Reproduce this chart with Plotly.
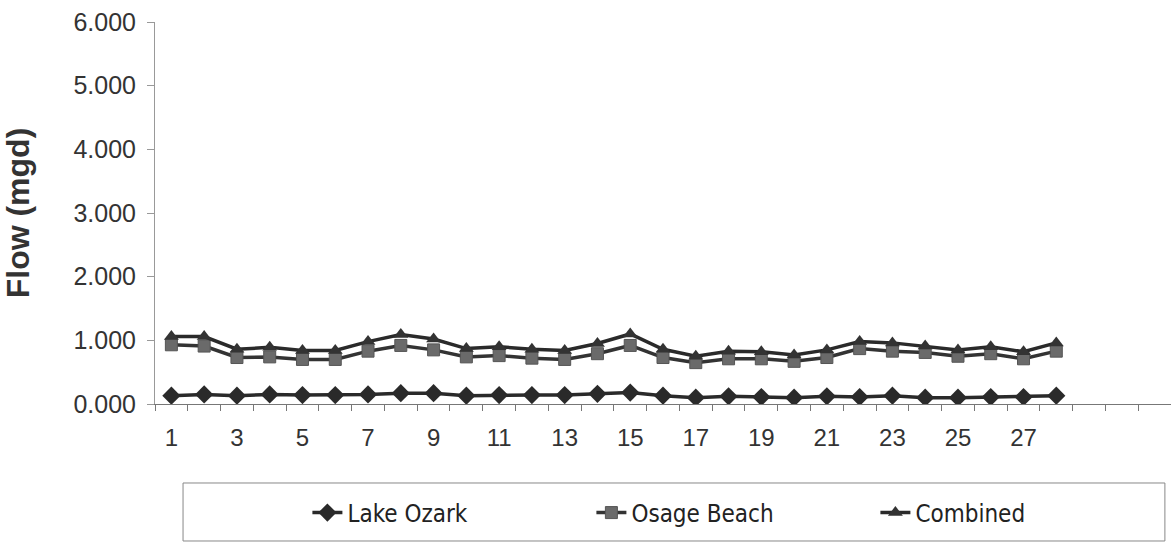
import plotly.graph_objects as go

days = list(range(1, 29))
lake_ozark = [0.13, 0.15, 0.13, 0.15, 0.14, 0.14, 0.15, 0.17, 0.17, 0.13, 0.14, 0.14, 0.14, 0.16,
              0.18, 0.13, 0.10, 0.12, 0.11, 0.10, 0.12, 0.11, 0.13, 0.10, 0.10, 0.11, 0.11, 0.13]
osage_beach = [0.93, 0.91, 0.73, 0.74, 0.70, 0.70, 0.83, 0.92, 0.85, 0.74, 0.76, 0.72, 0.70, 0.79,
               0.92, 0.73, 0.65, 0.71, 0.71, 0.67, 0.73, 0.87, 0.83, 0.81, 0.75, 0.79, 0.71, 0.83]
combined = [1.06, 1.06, 0.86, 0.89, 0.84, 0.84, 0.98, 1.09, 1.02, 0.87, 0.90, 0.86, 0.84, 0.95,
            1.10, 0.86, 0.75, 0.83, 0.82, 0.77, 0.85, 0.98, 0.96, 0.91, 0.85, 0.90, 0.82, 0.96]

x_labels = [1, 3, 5, 7, 9, 11, 13, 15, 17, 19, 21, 23, 25, 27]
n_slots = 31
y_ticks = [0, 1, 2, 3, 4, 5, 6]

FONT = "Liberation Sans, Arial, sans-serif"
NARROW = "Liberation Sans Narrow, DejaVu Sans Condensed, Arial Narrow, sans-serif"

fig = go.Figure()
fig.add_trace(go.Scatter(
    x=days, y=lake_ozark, name="Lake Ozark", mode="lines+markers",
    line=dict(color="#2a2a2a", width=3.5),
    marker=dict(symbol="diamond", size=14, color="#2a2a2a")))
fig.add_trace(go.Scatter(
    x=days, y=osage_beach, name="Osage Beach", mode="lines+markers",
    line=dict(color="#333333", width=3.5),
    marker=dict(symbol="square", size=12, color="#6a6a6a", line=dict(color="#555555", width=1))))
fig.add_trace(go.Scatter(
    x=days, y=combined, name="Combined", mode="lines+markers",
    line=dict(color="#2a2a2a", width=3.5),
    marker=dict(symbol="triangle-up", size=13, color="#333333")))

fig.update_layout(
    width=1171, height=548,
    margin=dict(l=155, r=0, t=22, b=144, autoexpand=False),
    paper_bgcolor="white", plot_bgcolor="white",
    font=dict(family=FONT, size=24, color="#333333"),
    showlegend=True,
    legend=dict(
        orientation="h", x=0.15, xanchor="left", y=-0.2853, yanchor="middle",
        font=dict(family=NARROW, size=24, color="#222222"),
        entrywidth=239, entrywidthmode="pixels",
        bgcolor="rgba(0,0,0,0)", borderwidth=0,
    ),
    shapes=[dict(type="rect", xref="paper", yref="paper",
                 x0=0.0276, x1=0.994, y0=-0.3586, y1=-0.2068,
                 line=dict(color="#888888", width=1), fillcolor="rgba(0,0,0,0)")],
)

fig.update_xaxes(
    range=[0.5, n_slots + 0.5],
    tickmode="array", tickvals=x_labels, ticktext=[str(v) for v in x_labels],
    ticks="", showgrid=False, zeroline=False,
    showline=True, linecolor="#777777", linewidth=1,
    ticklabelstandoff=12,
    tickfont=dict(family=FONT, size=24, color="#333333"),
    minor=dict(tickmode="array", tickvals=[i + 0.5 for i in range(0, n_slots + 1)],
               ticks="outside", ticklen=6, tickcolor="#777777", showgrid=False),
)
fig.update_yaxes(
    range=[0, 6], tickmode="array", tickvals=y_ticks,
    tickformat=".3f", ticks="outside", ticklen=7, tickcolor="#999999",
    showgrid=False, zeroline=False,
    showline=True, linecolor="#999999", linewidth=1,
    ticklabelstandoff=6,
    tickfont=dict(family=FONT, size=25, color="#333333"),
    title=dict(text="<b>Flow (mgd)</b>", font=dict(family=FONT, size=32, color="#333333"), standoff=41),
)

fig.write_html("out.html", config={"displayModeBar": False},
               post_script="document.body.style.margin='0';document.body.style.overflow='hidden';")
